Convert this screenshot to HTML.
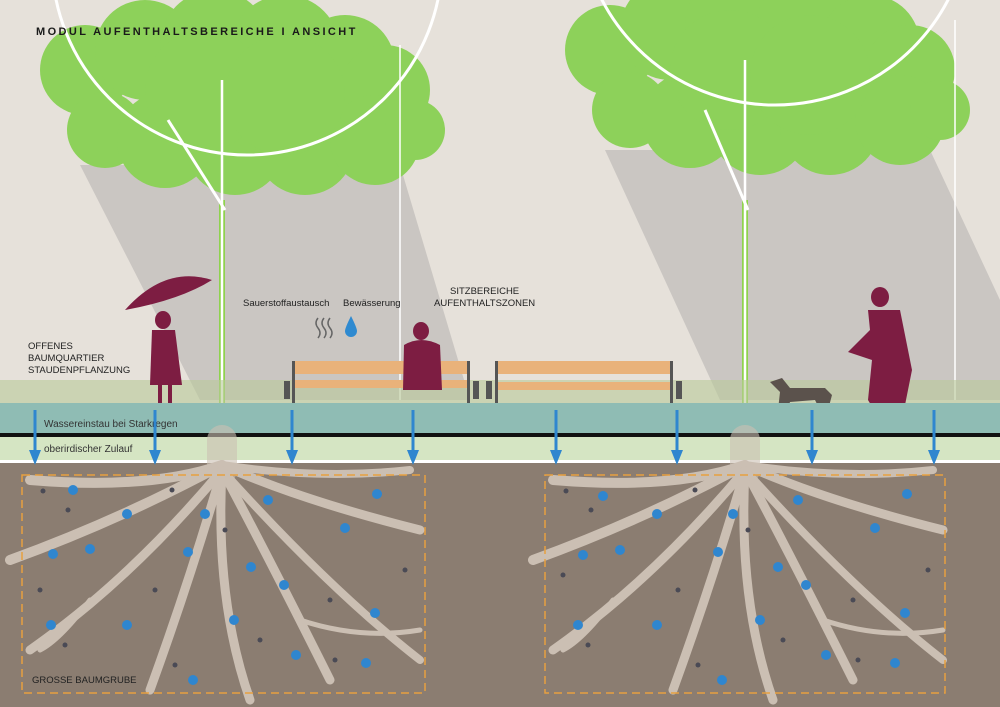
<!DOCTYPE html>
<html><head><meta charset="utf-8"><style>
html,body{margin:0;padding:0;background:#e6e1da;}
svg{display:block}
text{font-family:"Liberation Sans",sans-serif;}
</style></head><body>
<svg width="1000" height="707" viewBox="0 0 1000 707" xmlns="http://www.w3.org/2000/svg">
<defs>
<g id="ar"><line x1="0" y1="410" x2="0" y2="452" stroke="#2f86cf" stroke-width="3"/><polygon points="-6,450 6,450 0,465" fill="#2f86cf"/></g>
<g id="crown" fill="#8dd15a">
<circle cx="0" cy="40" r="45"/><circle cx="60" cy="20" r="50"/><circle cx="130" cy="15" r="55"/><circle cx="200" cy="20" r="55"/><circle cx="260" cy="35" r="50"/><circle cx="300" cy="60" r="45"/>
<circle cx="20" cy="100" r="38"/><circle cx="80" cy="110" r="48"/><circle cx="150" cy="115" r="50"/><circle cx="220" cy="115" r="50"/><circle cx="290" cy="110" r="45"/><circle cx="330" cy="100" r="30"/>
<circle cx="120" cy="60" r="60"/><circle cx="200" cy="65" r="60"/>
</g>
</defs>
<rect width="1000" height="707" fill="#e6e1da"/>
<!-- shadows -->
<polygon points="80,165 400,165 470,400 200,400" fill="#cac6c2"/>
<polygon points="605,150 930,150 1000,300 1000,400 720,400" fill="#cac6c2"/>
<!-- crowns -->
<use href="#crown" transform="translate(85,30)"/>
<use href="#crown" transform="translate(610,10)"/>
<!-- circles -->
<circle cx="247" cy="-40" r="195" fill="none" stroke="#fff" stroke-width="3"/>
<circle cx="775" cy="-90" r="195" fill="none" stroke="#fff" stroke-width="3"/>
<!-- trunks -->
<line x1="222" y1="200" x2="222" y2="410" stroke="#8fd24e" stroke-width="6"/>
<line x1="222" y1="80" x2="222" y2="410" stroke="#fff" stroke-width="2.5"/>
<line x1="168" y1="120" x2="225" y2="210" stroke="#fff" stroke-width="3"/>
<line x1="745" y1="200" x2="745" y2="410" stroke="#8fd24e" stroke-width="6"/>
<line x1="745" y1="60" x2="745" y2="410" stroke="#fff" stroke-width="2.5"/>
<line x1="705" y1="110" x2="748" y2="210" stroke="#fff" stroke-width="3"/>
<line x1="400" y1="45" x2="400" y2="400" stroke="#fff" stroke-width="1.5"/>
<line x1="955" y1="20" x2="955" y2="400" stroke="#fff" stroke-width="1.5"/>
<text x="36" y="35" font-size="11" font-weight="bold" fill="#1a1a1a" letter-spacing="2.4">MODUL AUFENTHALTSBEREICHE I ANSICHT</text>
<!-- grass -->
<rect x="0" y="380" width="1000" height="25" fill="#b9c99a" opacity="0.6"/>
<!-- benches -->
<g>
<rect x="292" y="361" width="178" height="13" fill="#e9b27a"/>
<rect x="292" y="380" width="178" height="8" fill="#e9b27a"/>
<rect x="292" y="361" width="3" height="45" fill="#555"/>
<rect x="467" y="361" width="3" height="45" fill="#555"/>
<rect x="284" y="381" width="6" height="18" fill="#555"/>
<rect x="473" y="381" width="6" height="18" fill="#555"/>
<rect x="495" y="361" width="178" height="13" fill="#e9b27a"/>
<rect x="495" y="382" width="178" height="8" fill="#e9b27a"/>
<rect x="495" y="361" width="3" height="45" fill="#555"/>
<rect x="670" y="361" width="3" height="45" fill="#555"/>
<rect x="486" y="381" width="6" height="18" fill="#555"/>
<rect x="676" y="381" width="6" height="18" fill="#555"/>
</g>
<!-- people -->
<g fill="#7d1d42">
<path d="M125,310 Q165,265 212,280 Q180,300 125,310Z"/>
<ellipse cx="163" cy="320" rx="8" ry="9"/>
<path d="M152,330 L175,330 L182,385 L150,385Z"/>
<rect x="158" y="385" width="4" height="20"/><rect x="168" y="385" width="4" height="20"/>
<ellipse cx="421" cy="331" rx="8" ry="9"/>
<path d="M404,345 Q421,335 440,345 L442,390 L403,390Z"/>
<ellipse cx="880" cy="297" rx="9" ry="10"/>
<path d="M868,310 L900,310 L912,370 L905,405 L880,420 L868,400 L872,360 L848,352 L870,330Z"/>
<path d="M770,382 L782,378 L790,388 L825,388 L832,395 L828,410 L820,410 L815,400 L790,402 L785,415 L778,410 L780,392Z" fill="#5b524c"/>
</g>
<text x="243" y="306" font-size="9.5" fill="#222">Sauerstoffaustausch</text>
<text x="343" y="306" font-size="9.5" fill="#222">Bewässerung</text>
<text x="450" y="294" font-size="9.5" fill="#222">SITZBEREICHE</text>
<text x="434" y="306" font-size="9.5" fill="#222">AUFENTHALTSZONEN</text>
<text x="28" y="349" font-size="9.5" fill="#222">OFFENES</text>
<text x="28" y="361" font-size="9.5" fill="#222">BAUMQUARTIER</text>
<text x="28" y="373" font-size="9.5" fill="#222">STAUDENPFLANZUNG</text>
<path d="M318,318 q-4,5 0,10 q4,5 0,10 M324,318 q-4,5 0,10 q4,5 0,10 M330,318 q-4,5 0,10 q4,5 0,10" stroke="#666" stroke-width="1.5" fill="none"/>
<path d="M351,316 Q345,328 345,331 A6,6 0 0 0 357,331 Q357,328 351,316Z" fill="#2f8ad0"/>
<!-- bands -->
<rect x="0" y="403" width="1000" height="30" fill="#8fbcb4"/>
<rect x="0" y="433" width="1000" height="4" fill="#111"/>
<rect x="0" y="437" width="1000" height="23" fill="#d5e5c3"/>
<rect x="0" y="460" width="1000" height="3" fill="#fff"/>
<rect x="0" y="463" width="1000" height="244" fill="#8b7d71"/>
<text x="44" y="427" font-size="10" fill="#333">Wassereinstau bei Starkregen</text>
<text x="44" y="452" font-size="10" fill="#333">oberirdischer Zulauf</text>
<!-- roots -->
<g stroke="#cbbfb3" fill="none" stroke-linecap="round">
<g id="roots">
<path d="M222,440 L222,470" stroke-width="30" opacity="0.6"/>
<path d="M222,465 Q150,490 30,480" stroke-width="10"/>
<path d="M222,465 Q120,520 10,560" stroke-width="10"/>
<path d="M222,470 Q130,580 30,650" stroke-width="9"/>
<path d="M222,470 Q190,580 150,690" stroke-width="9"/>
<path d="M222,470 Q215,600 250,700" stroke-width="9"/>
<path d="M222,470 Q270,560 330,680" stroke-width="9"/>
<path d="M222,465 Q300,500 420,530" stroke-width="9"/>
<path d="M222,465 Q320,480 410,470" stroke-width="8"/>
<path d="M222,470 Q330,590 420,660" stroke-width="8"/>
<path d="M90,600 Q60,640 40,650" stroke-width="5"/>
<path d="M300,620 Q360,640 420,630" stroke-width="5"/>
</g>
<use href="#roots" transform="translate(523,0)"/>
</g>
<!-- dashed boxes -->
<rect x="22" y="475" width="403" height="218" fill="none" stroke="#e8a040" stroke-width="1.5" stroke-dasharray="8,5"/>
<rect x="545" y="475" width="400" height="218" fill="none" stroke="#e8a040" stroke-width="1.5" stroke-dasharray="8,5"/>
<text x="32" y="683" font-size="9.5" fill="#222">GROSSE BAUMGRUBE</text>
<!-- dots -->
<g fill="#2f86cf">
<circle cx="73" cy="490" r="5"/><circle cx="127" cy="514" r="5"/><circle cx="53" cy="554" r="5"/><circle cx="90" cy="549" r="5"/><circle cx="188" cy="552" r="5"/><circle cx="205" cy="514" r="5"/><circle cx="268" cy="500" r="5"/><circle cx="345" cy="528" r="5"/><circle cx="377" cy="494" r="5"/><circle cx="251" cy="567" r="5"/><circle cx="284" cy="585" r="5"/><circle cx="375" cy="613" r="5"/><circle cx="51" cy="625" r="5"/><circle cx="127" cy="625" r="5"/><circle cx="234" cy="620" r="5"/><circle cx="296" cy="655" r="5"/><circle cx="366" cy="663" r="5"/><circle cx="193" cy="680" r="5"/>
<circle cx="603" cy="496" r="5"/><circle cx="657" cy="514" r="5"/><circle cx="583" cy="555" r="5"/><circle cx="620" cy="550" r="5"/><circle cx="718" cy="552" r="5"/><circle cx="733" cy="514" r="5"/><circle cx="798" cy="500" r="5"/><circle cx="875" cy="528" r="5"/><circle cx="907" cy="494" r="5"/><circle cx="778" cy="567" r="5"/><circle cx="806" cy="585" r="5"/><circle cx="905" cy="613" r="5"/><circle cx="578" cy="625" r="5"/><circle cx="657" cy="625" r="5"/><circle cx="760" cy="620" r="5"/><circle cx="826" cy="655" r="5"/><circle cx="895" cy="663" r="5"/><circle cx="722" cy="680" r="5"/>
</g>
<g fill="#4a4a55">
<circle cx="43" cy="491" r="2.5"/><circle cx="172" cy="490" r="2.5"/><circle cx="68" cy="510" r="2.5"/><circle cx="225" cy="530" r="2.5"/><circle cx="155" cy="590" r="2.5"/><circle cx="405" cy="570" r="2.5"/><circle cx="330" cy="600" r="2.5"/><circle cx="40" cy="590" r="2.5"/><circle cx="65" cy="645" r="2.5"/><circle cx="175" cy="665" r="2.5"/><circle cx="335" cy="660" r="2.5"/><circle cx="260" cy="640" r="2.5"/>
<circle cx="566" cy="491" r="2.5"/><circle cx="695" cy="490" r="2.5"/><circle cx="591" cy="510" r="2.5"/><circle cx="748" cy="530" r="2.5"/><circle cx="678" cy="590" r="2.5"/><circle cx="928" cy="570" r="2.5"/><circle cx="853" cy="600" r="2.5"/><circle cx="563" cy="575" r="2.5"/><circle cx="588" cy="645" r="2.5"/><circle cx="698" cy="665" r="2.5"/><circle cx="858" cy="660" r="2.5"/><circle cx="783" cy="640" r="2.5"/>
</g>
<!-- arrows -->
<use href="#ar" x="35"/><use href="#ar" x="155"/><use href="#ar" x="292"/><use href="#ar" x="413"/>
<use href="#ar" x="556"/><use href="#ar" x="677"/><use href="#ar" x="812"/><use href="#ar" x="934"/>
</svg>
</body></html>
